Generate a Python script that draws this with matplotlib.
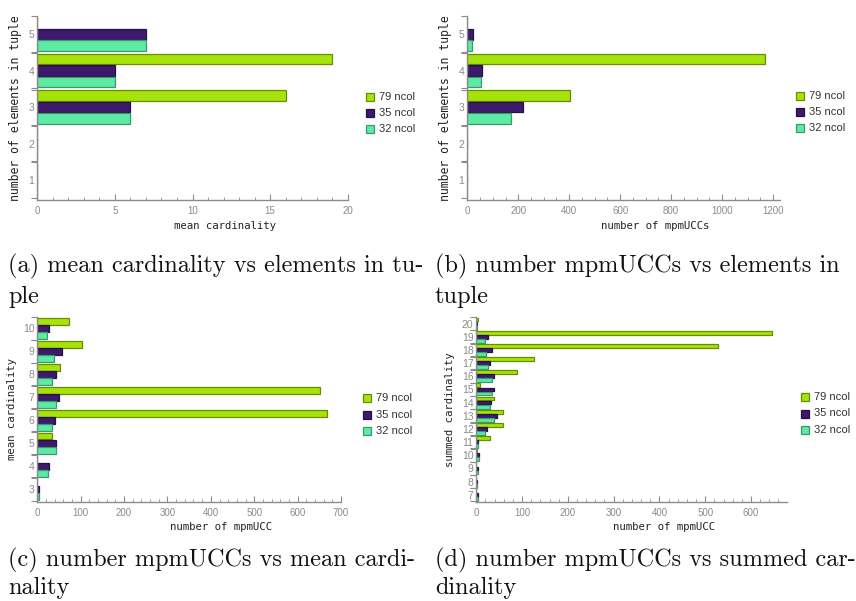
import numpy as np
import matplotlib.pyplot as plt
from matplotlib.patches import Rectangle

series = ['79 ncol', '35 ncol', '32 ncol']
colors = ['#a6e30a', '#3d1a6b', '#5ceaa5']
edges = ['#6a8c00', '#27104a', '#3a9a6e']

# (a) mean cardinality per number of elements in tuple
tuple_sizes = [1, 2, 3, 4, 5]
mean_card_79 = [0, 0, 16, 19, 0]
mean_card_35 = [0, 0, 6, 5, 7]
mean_card_32 = [0, 0, 6, 5, 7]

# (b) number of mpmUCCs per number of elements in tuple
n_ucc_79 = [0, 0, 403, 1170, 0]
n_ucc_35 = [0, 0, 217, 56, 21]
n_ucc_32 = [0, 0, 173, 52, 20]

# (c) number of mpmUCCs per mean cardinality
mean_card_bins = [3, 4, 5, 6, 7, 8, 9, 10]
by_mean_79 = [0, 0, 33, 668, 651, 53, 104, 72]
by_mean_35 = [3, 26, 43, 40, 51, 43, 56, 28]
by_mean_32 = [3, 25, 43, 35, 43, 35, 39, 22]

# (d) number of mpmUCCs per summed cardinality
sum_card_bins = [7, 8, 9, 10, 11, 12, 13, 14, 15, 16, 17, 18, 19, 20]
by_sum_79 = [0, 0, 0, 1, 31, 58, 58, 39, 8, 88, 125, 528, 645, 4]
by_sum_35 = [4, 2, 4, 6, 4, 23, 46, 33, 39, 39, 31, 35, 26, 2]
by_sum_32 = [4, 2, 4, 6, 3, 19, 38, 31, 34, 34, 26, 22, 19, 1]

W, H = 856, 601
fig = plt.figure(figsize=(W / 100, H / 100), dpi=100)

axis_gray = '#8c8c8c'
label_gray = '#8a8a8a'
mono = 'DejaVu Sans Mono'
sans = 'Liberation Sans'


def px_axes(x0, x1, ytop, ybot):
    return fig.add_axes([x0 / W, 1 - ybot / H, (x1 - x0) / W, (ybot - ytop) / H])


def panel(box, cats, vals, xmax, xmajor, xminor, xlabel, ylabel, xlab_y, ylab_x,
          legend_xy, legend_dy, ylab_size=7.7):
    ax = px_axes(*box)
    cats = np.array(cats)
    offs = [0.315, 0.0, -0.315]
    for v, c, e, o, name in zip(vals, colors, edges, offs, series):
        ax.barh(cats + o, v, height=0.29, color=c, edgecolor=e, linewidth=0.9,
                label=name)
    ax.set_xlim(0, xmax)
    ax.set_ylim(cats[0] - 0.55, cats[-1] + 0.5)
    for s in ['top', 'right']:
        ax.spines[s].set_visible(False)
    for s in ['left', 'bottom']:
        ax.spines[s].set_color(axis_gray)
        ax.spines[s].set_linewidth(1.0)
    ax.set_xticks(xmajor)
    ax.set_xticks(np.arange(0, xmax + 1e-9, xminor), minor=True)
    ax.tick_params(axis='x', which='major', direction='in', length=4, width=0.8,
                   color=axis_gray, labelsize=7, labelcolor=label_gray, pad=4)
    ax.tick_params(axis='x', which='minor', direction='in', length=2, width=0.6,
                   color=axis_gray)
    ax.set_yticks(cats)
    ax.set_yticklabels([str(c) for c in cats], fontfamily=sans)
    # double ticks where neighbouring category groups meet
    bounds = np.concatenate([[cats[0] - 0.5],
                             np.ravel([[c + 0.48, c + 0.52] for c in cats[:-1]]),
                             [cats[-1] + 0.5]])
    ax.set_yticks(bounds, minor=True)
    ax.tick_params(axis='y', which='major', length=0, labelsize=7.5,
                   labelcolor=label_gray, pad=2)
    ax.tick_params(axis='y', which='minor', direction='out', length=4, width=0.8,
                   color=axis_gray)
    for t in ax.get_xticklabels():
        t.set_fontfamily(sans)
    fig.text(((box[0] + box[1]) / 2 + 32) / W, 1 - xlab_y / H, xlabel, family=mono,
             fontsize=7.7, ha='center', va='center', color='#222222')
    fig.text(ylab_x / W, 1 - ((box[2] + box[3]) / 2) / H, ylabel, family=mono,
             fontsize=ylab_size, ha='center', va='center', rotation=90,
             color='#222222')
    lx, ly = legend_xy
    for i, (c, e, name) in enumerate(zip(colors, edges, series)):
        y = ly + i * legend_dy
        fig.patches.append(Rectangle(((lx - 4) / W, 1 - (y + 4) / H), 8 / W, 8 / H,
                                     facecolor=c, edgecolor=e, linewidth=0.9,
                                     transform=fig.transFigure))
        fig.text((lx + 9) / W, 1 - y / H, name, family=sans, fontsize=8,
                 ha='left', va='center', color='#333333')
    return ax


panel((37.3, 347.7, 16, 200), tuple_sizes, [mean_card_79, mean_card_35, mean_card_32],
      20, [0, 5, 10, 15, 20], 1, 'mean cardinality', 'number of elements in tuple',
      226, 16, (370, 97), 16, ylab_size=8.3)
panel((467.3, 780, 16, 200), tuple_sizes, [n_ucc_79, n_ucc_35, n_ucc_32],
      1200 * (780 - 467.3) / (773 - 467.3), [0, 200, 400, 600, 800, 1000, 1200], 50,
      'number of mpmUCCs', 'number of elements in tuple', 226, 446, (800, 96), 16,
      ylab_size=8.3)
panel((37.3, 341, 317, 502), mean_card_bins, [by_mean_79, by_mean_35, by_mean_32],
      700, [0, 100, 200, 300, 400, 500, 600, 700], 20, 'number of mpmUCC',
      'mean cardinality', 527, 12, (367, 398), 16.5)
panel((476.3, 787, 317, 502), sum_card_bins, [by_sum_79, by_sum_35, by_sum_32],
      600 * (787 - 476.3) / (751 - 476.3), [0, 100, 200, 300, 400, 500, 600], 20,
      'number of mpmUCC', 'summed cardinality', 527, 450, (805, 397), 16.5)

captions = [
    (8, 272, '(a) mean cardinality vs elements in tu-'),
    (8, 303, 'ple'),
    (435, 272, '(b) number mpmUCCs vs elements in'),
    (435, 303, 'tuple'),
    (8, 566, '(c) number mpmUCCs vs mean cardi-'),
    (8, 594, 'nality'),
    (435, 566, '(d) number mpmUCCs vs summed car-'),
    (435, 594, 'dinality'),
]
for x, y, s in captions:
    fig.text(x / W, 1 - y / H, s, family='cmr10', fontsize=17.5, ha='left',
             va='baseline', color='#111111')

fig.savefig('out.png', dpi=100)
